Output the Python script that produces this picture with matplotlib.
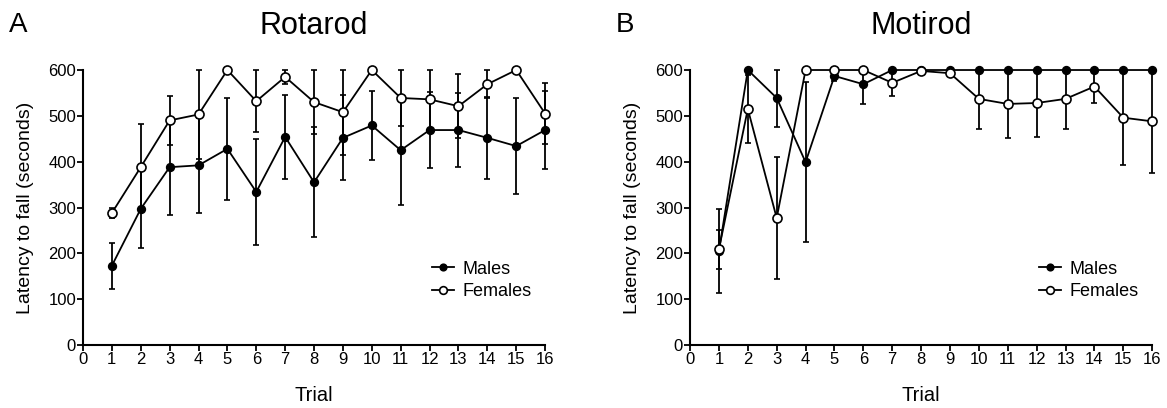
import matplotlib.pyplot as plt
import numpy as np

plt.rcParams['font.family'] = ['Liberation Sans', 'DejaVu Sans']

trials = np.arange(1, 17)
xticks = list(range(0, 17))
yticks = [0, 100, 200, 300, 400, 500, 600]

# Rotarod (panel A)
rota_males = [173, 297, 388, 392, 428, 334, 454, 355, 452, 479, 425, 469, 469, 452, 434, 469]
rota_males_err = [50, 85, 104, 103, 111, 116, 92, 120, 93, 75, 119, 83, 81, 90, 104, 85]
rota_females = [288, 388, 490, 503, 600, 532, 585, 530, 508, 600, 539, 536, 521, 569, 600, 505]
rota_females_err = [10, 95, 53, 97, 0, 67, 15, 70, 93, 0, 62, 64, 70, 31, 0, 67]

# Motirod (panel B)
moti_males = [205, 600, 539, 399, 587, 569, 600, 600, 600, 600, 600, 600, 600, 600, 600, 600]
moti_males_err = [92, 0, 63, 175, 10, 44, 0, 0, 0, 0, 0, 0, 0, 0, 0, 0]
moti_females = [209, 515, 277, 600, 600, 600, 572, 598, 593, 537, 526, 528, 537, 564, 496, 488]
moti_females_err = [43, 74, 133, 0, 0, 0, 29, 0, 5, 65, 75, 74, 65, 37, 104, 112]


def draw_panel(ax, males, males_err, females, females_err, title, letter):
    lines = []
    for vals, err, face, z in [(males, males_err, 'black', 3), (females, females_err, 'white', 4)]:
        vals = np.array(vals, dtype=float)
        err = np.array(err, dtype=float)
        upper = np.minimum(vals + err, 600) - vals
        cont = ax.errorbar(trials, vals, yerr=[err, upper], color='black', lw=1.3,
                           elinewidth=1.3, capsize=2.5, capthick=1.2, marker='o',
                           markersize=6.5 if face == 'white' else 5.5,
                           markerfacecolor=face, markeredgecolor='black', markeredgewidth=1.2,
                           clip_on=False, zorder=z)
        lines.append(cont.lines[0])
    ax.set_xlim(0, 16)
    ax.set_ylim(0, 600)
    ax.set_xticks(xticks)
    ax.set_yticks(yticks)
    ax.spines['top'].set_visible(False)
    ax.spines['right'].set_visible(False)
    ax.spines['left'].set_linewidth(1.5)
    ax.spines['bottom'].set_linewidth(1.5)
    ax.tick_params(direction='out', length=4, width=1.3, labelsize=12, pad=1)
    ax.set_xlabel('Trial', fontsize=14.5, labelpad=14)
    ax.set_ylabel('Latency to fall (seconds)', fontsize=14, labelpad=10)
    ax.set_title(title, fontsize=22, pad=26)
    ax.text(-0.16, 1.165, letter, transform=ax.transAxes, fontsize=20,
            va='center', ha='left')
    ax.legend(lines, ['Males', 'Females'], frameon=False,
              loc='center left', bbox_to_anchor=(0.72, 0.235), fontsize=13,
              handlelength=1.2, handletextpad=0.5, labelspacing=0.3, markerscale=0.85)


fig = plt.figure(figsize=(11.67, 4.08), dpi=100)
ax1 = fig.add_axes([0.0711, 0.1544, 0.396, 0.674])
ax2 = fig.add_axes([0.5913, 0.1544, 0.396, 0.674])

draw_panel(ax1, rota_males, rota_males_err, rota_females, rota_females_err, 'Rotarod', 'A')
draw_panel(ax2, moti_males, moti_males_err, moti_females, moti_females_err, 'Motirod', 'B')

fig.savefig('out.png', dpi=100)
